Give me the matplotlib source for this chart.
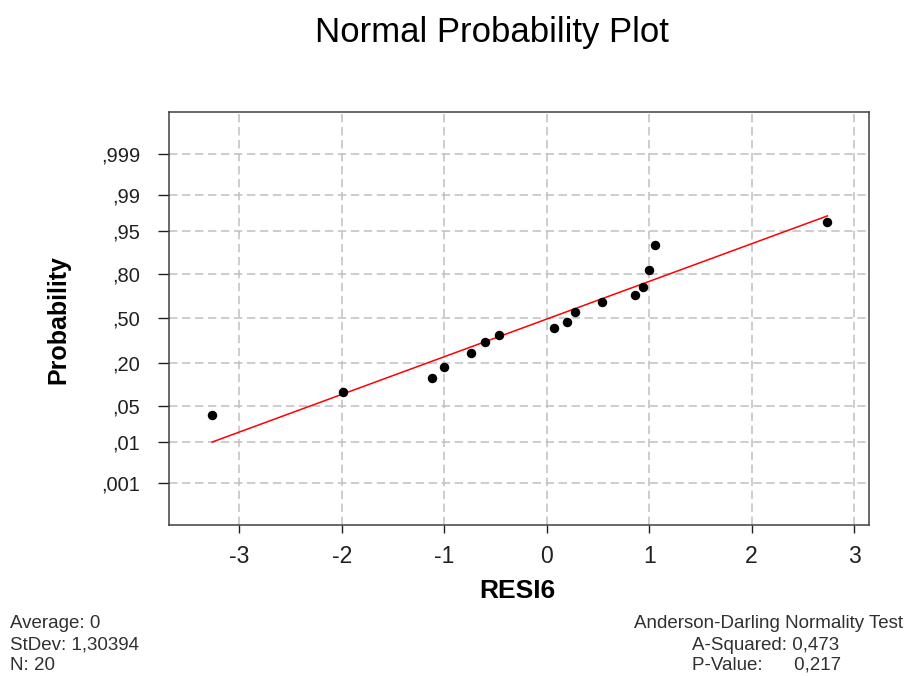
import matplotlib.pyplot as plt
from statistics import NormalDist

# residuals (RESI6), ties plotted once at their averaged rank
residuals = [-3.267, -1.993, -1.121, -1.001, -0.738, -0.599, -0.462, 0.068,
             0.195, 0.273, 0.536, 0.861, 0.942, 1.000, 1.059, 2.740]
probs = [0.0343, 0.0833, 0.1324, 0.1814, 0.2549, 0.3284, 0.3775, 0.4265,
         0.4755, 0.5490, 0.6225, 0.6716, 0.7206, 0.8186, 0.9167, 0.9657]

# fitted line end points
fit_x = [-3.267, 2.740]
fit_p = [0.0100, 0.973]

x_ticks = [-3, -2, -1, 0, 1, 2, 3]
prob_ticks = [0.001, 0.01, 0.05, 0.20, 0.50, 0.80, 0.95, 0.99, 0.999]
prob_labels = [",001", ",01", ",05", ",20", ",50", ",80", ",95", ",99", ",999"]

W, H = 909, 676
nd = NormalDist()
z = lambda p: nd.inv_cdf(p)

plt.rcParams['font.family'] = ['Liberation Sans', 'DejaVu Sans']

fig = plt.figure(figsize=(W / 100, H / 100), dpi=100)
ax = fig.add_axes([169 / W, 1 - 525 / H, (869 - 169) / W, (525 - 111.7) / H])

ax.plot(fit_x, [z(p) for p in fit_p], color='red', lw=1.1, zorder=2)
ax.plot(residuals, [z(p) for p in probs], 'o', color='black', ms=5.8, zorder=3)

ax.set_xlim(-3.688, 3.146)
ax.set_ylim(-3.886, 3.886)
ax.set_xticks(x_ticks)
ax.set_xticklabels([str(t) for t in x_ticks])
ax.set_yticks([z(p) for p in prob_ticks])
ax.set_yticklabels(prob_labels)

ax.grid(True, color='#c0c0c0', lw=1.1, linestyle=(0, (5.5, 3)), zorder=0)
ax.set_axisbelow(True)
for s in ax.spines.values():
    s.set_color('#404040')
    s.set_linewidth(1.1)

ax.tick_params(axis='x', length=5.8, width=1, pad=8.6, labelsize=16.5,
               colors='#202020')
ax.tick_params(axis='y', length=7.9, width=1, pad=13, labelsize=14.5,
               colors='#202020')

fig.text(491.5 / W, 1 - 41.7 / H, "Normal Probability Plot", fontsize=25,
         ha='center', va='baseline')
fig.text(517.5 / W, 1 - 598.3 / H, "RESI6", fontsize=19, fontweight='bold',
         ha='center', va='baseline')
fig.text(58.5 / W, 1 - 320 / H, "Probability", fontsize=18, fontweight='bold',
         rotation=90, ha='center', va='center')

txt = dict(fontsize=13.5, color='#303030', va='baseline')
fig.text(10 / W, 1 - 627.7 / H, "Average: 0", ha='left', **txt)
fig.text(10 / W, 1 - 650 / H, "StDev: 1,30394", ha='left', **txt)
fig.text(10 / W, 1 - 670 / H, "N: 20", ha='left', **txt)
fig.text(903 / W, 1 - 627.7 / H, "Anderson-Darling Normality Test", ha='right', **txt)
fig.text(692 / W, 1 - 650 / H, "A-Squared: 0,473", ha='left', **txt)
fig.text(692 / W, 1 - 670 / H, "P-Value:      0,217", ha='left', **txt)

fig.savefig("out.png", dpi=100)
